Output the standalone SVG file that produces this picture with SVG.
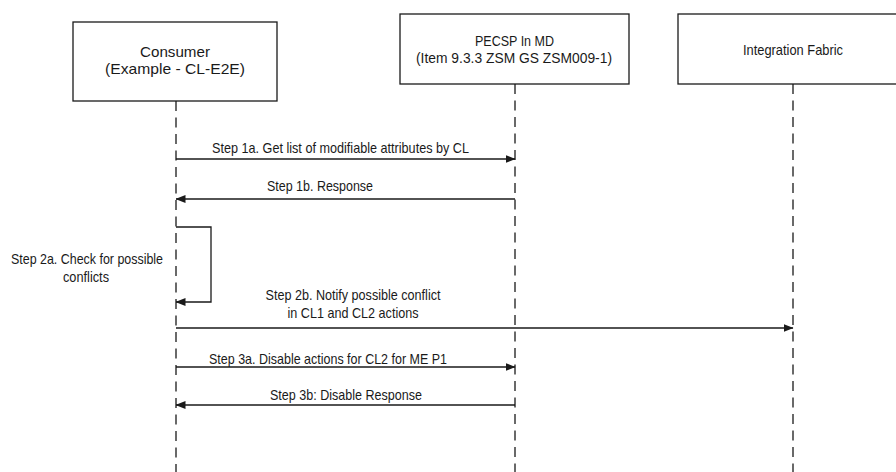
<svg xmlns="http://www.w3.org/2000/svg" width="896" height="472" viewBox="0 0 896 472">
<style>
.box{fill:#fff;stroke:#1a1a1a;stroke-width:1.3}
.life{stroke:#1a1a1a;stroke-width:1.3;stroke-dasharray:10 6.5;fill:none}
.msg{stroke:#1a1a1a;stroke-width:1.3;fill:none}
text{font-family:"Liberation Sans Narrow","Liberation Sans",Arial,sans-serif;font-size:15px;fill:#1a1a1a;text-anchor:middle}
</style>
<defs>
<marker id="ah" markerWidth="10" markerHeight="8" refX="9.5" refY="4" orient="auto" markerUnits="userSpaceOnUse">
<path d="M0,0 L10,4 L0,8 Z" fill="#1a1a1a"/>
</marker>
</defs>
<rect width="896" height="472" fill="#fff"/>
<g id="consumer">
<rect class="box" x="73" y="22" width="204" height="79"/>
<text x="175" y="57" textLength="70" lengthAdjust="spacingAndGlyphs">Consumer</text>
<text x="175" y="74" textLength="140" lengthAdjust="spacingAndGlyphs">(Example - CL-E2E)</text>
</g>
<g id="pecsp">
<rect class="box" x="400" y="14" width="229" height="70"/>
<text x="514.5" y="46" textLength="79" lengthAdjust="spacingAndGlyphs">PECSP In MD</text>
<text x="514" y="63" textLength="196" lengthAdjust="spacingAndGlyphs">(Item 9.3.3 ZSM GS ZSM009-1)</text>
</g>
<g id="integration-fabric">
<rect class="box" x="678" y="14" width="232" height="70"/>
<text x="793" y="55" textLength="100" lengthAdjust="spacingAndGlyphs">Integration Fabric</text>
</g>
<g id="lifelines">
<line class="life" x1="176" y1="101" x2="176" y2="472"/>
<line class="life" x1="515" y1="84" x2="515" y2="472"/>
<line class="life" x1="793" y1="84" x2="793" y2="472"/>
</g>
<g id="connectors">
<line class="msg" x1="176" y1="159" x2="515" y2="159" marker-end="url(#ah)"/>
<line class="msg" x1="515" y1="199" x2="176" y2="199" marker-end="url(#ah)"/>
<polyline class="msg" points="176,227 211,227 211,302 176,302" marker-end="url(#ah)"/>
<line class="msg" x1="176" y1="328" x2="793" y2="328" marker-end="url(#ah)"/>
<line class="msg" x1="176" y1="367" x2="515" y2="367" marker-end="url(#ah)"/>
<line class="msg" x1="515" y1="405" x2="176" y2="405" marker-end="url(#ah)"/>
</g>
<g id="labels">
<text x="340.5" y="153" textLength="257" lengthAdjust="spacingAndGlyphs">Step 1a. Get list of modifiable attributes by CL</text>
<text x="320" y="191" textLength="106" lengthAdjust="spacingAndGlyphs">Step 1b. Response</text>
<text x="87" y="264" textLength="152" lengthAdjust="spacingAndGlyphs">Step 2a. Check for possible</text>
<text x="86" y="282" textLength="46" lengthAdjust="spacingAndGlyphs">conflicts</text>
<text x="353" y="300" textLength="175" lengthAdjust="spacingAndGlyphs">Step 2b. Notify possible conflict</text>
<text x="353" y="318" textLength="131" lengthAdjust="spacingAndGlyphs">in CL1 and CL2 actions</text>
<text x="328" y="364" textLength="238" lengthAdjust="spacingAndGlyphs">Step 3a. Disable actions for CL2 for ME P1</text>
<text x="346" y="400" textLength="152" lengthAdjust="spacingAndGlyphs">Step 3b: Disable Response</text>
</g>
</svg>
